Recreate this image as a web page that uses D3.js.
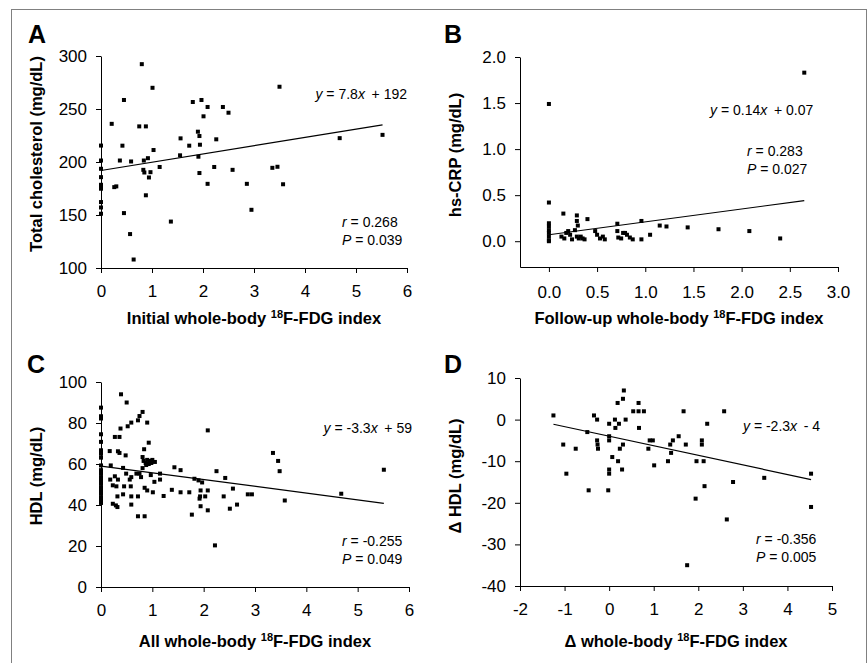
<!DOCTYPE html>
<html>
<head>
<meta charset="utf-8">
<script src="https://cdn.jsdelivr.net/npm/d3@7"></script>
<style>
body { margin: 0; background: #fff; }
text { font-family: "Liberation Sans", Arial, sans-serif; fill: #000; }
</style>
</head>
<body>
<script>

// panel A: initial index vs total cholesterol
var aIndex = [0,0,0,0,0,0,0,0,0,0, 0.21,0.26,0.30,0.37,0.42,0.45,0.45,0.57,0.59,0.64,
    0.75,0.80,0.84,0.83,0.85,0.88,0.88,0.92,0.97,0.94, 1.01,1.03,1.15,1.37,1.56,1.55,1.73,1.80,1.90,1.93,
    1.94,1.91,1.93,1.97,2.01,2.09,2.09,2.22,2.26,2.39, 2.50,2.58,2.86,2.95,3.36,3.46,3.50,3.57,4.68,5.52];
var aCholesterol = [215.5,201.4,193.6,185.7,178.5,177,174.8,162.2,157.1,151.2, 236,176.3,177,201.4,215.4,258.5,151.8,132,200.5,108,
    233.6,292.3,201.4,192.6,190.1,233.6,168.6,203.6,190.4,185.4, 270,211.3,195.3,143.8,222.3,206.3,215.4,256.6,228.6,224.5,
    216.3,205,189.6,258.5,243.1,251.9,179.4,195.3,221.4,251.9, 246.5,192.6,179.4,154.9,194.5,195.5,271,179,222.5,225.6];
var aFit = [7.8, 192];

// panel B: follow-up index vs hs-CRP
var bIndex = [0,0,0,0,0,0,0,0,0, 0.15,0.29,0.29,0.30,0.40,
    0.13,0.16,0.18,0.20,0.22,0.24,0.27,0.29,0.31,0.33,0.35,0.37,
    0.48,0.50,0.53,0.56,0.58,
    0.71,0.71,0.72,0.75,0.77,0.79,0.81,0.84,0.87,0.96,0.96,
    1.05,1.15,1.22,1.44,1.76,2.08,2.40,2.65];
var bCrp = [1.49,0.42,0.195,0.16,0.12,0.09,0.05,0.01,0.0, 0.30,0.28,0.22,0.17,0.24,
    0.05,0.03,0.09,0.11,0.07,0.02,0.12,0.05,0.03,0.05,0.03,0.02,
    0.11,0.07,0.03,0.05,0.02,
    0.19,0.11,0.04,0.03,0.09,0.09,0.07,0.04,0.02,0.02,0.22,
    0.07,0.17,0.16,0.15,0.13,0.11,0.03,1.83];
var bFit = [0.14, 0.07];

// panel C: all index vs HDL
var cIndex = [0,0,0,0,0,0,0,0,0,0, 0,0,0,0,0,0,0,0,0,0,
    0.39,0.50,0.81,0.75,0.72,0.59,0.52,0.38,0.90,0.27, 0.36,0.93,0.84,0.17,0.33,0.36,0.48,0.81,0.83,0.87,
    0.90,0.95,1.00,1.05,0.88,0.93,0.98,0.19,0.43,0.81, 1.43,1.55,0.18,0.27,0.33,0.49,0.59,0.69,0.75,0.78,
    0.56,0.97,1.15,1.04,1.15,0.23,0.30,0.45,0.58,0.85, 0.90,1.01,1.38,1.55,1.72,0.43,0.32,0.59,0.72,1.22,
    0.23,0.29,0.32,0.59,0.72,0.85,1.77,
    2.08,3.35,3.45,3.48,2.25,2.42,1.82,1.90,1.97,1.94, 2.08,2.57,1.93,1.92,2.03,2.39,2.86,2.94,3.58,1.94,
    2.08,2.51,2.65,2.22,4.68,5.51];
var cHdl = [87.5,83.3,82.2,74.5,70.8,66.7,65,63.1,59.3,57, 55.3,53.6,52,50.4,48.7,47,45.5,43.8,42.1,41,
    94,90,85.4,83.4,81.3,80.2,78.4,77.3,80.2,73.2, 73.2,70.4,67.2,66.3,66.2,65.4,64.2,63.4,61.5,60.5,
    62,61.5,62,61,59.5,60,60.5,59.3,58.1,58, 58.4,57,52.4,54,52.4,55.3,53.6,55.3,55.3,53.6,
    52.4,54.6,55.3,51.3,52.4,49.6,49.1,49.1,49.1,48.4, 47.1,46.2,47.4,46.2,46.2,45.2,44.2,44.2,44.2,44.4,
    40.6,39.8,39,40.2,34.5,34.5,35.3,
    76.4,65.4,61.5,56.5,56.5,53.2,52.8,52,51,47.1, 47.1,48,44.2,43.1,44.2,44.2,45.2,45.2,42.2,39.4,
    37.4,38.2,40.2,20.3,45.5,57.2];
var cFit = [-3.3, 59];

// panel D: change in index vs change in HDL
var dIndex = [-1.25,-1.03,-0.96,-0.75,-0.49,-0.46,-0.34,-0.27,-0.27,-0.26,
    -0.25,-0.02,0,0,0,0,0,0.07,0.13,0.14, 0.19,0.22,0.20,0.24,0.29,0.31,0.33,0.31,0.37,0.54,
    0.66,0.66,0.67,0.78,0.88,0.91,0.98,1.01,1.32,1.37, 1.39,1.43,1.56,1.67,1.72,1.75,1.94,1.96,2.08,2.08,
    2.12,2.14,2.20,2.58,2.64,2.78,3.48,4.53,4.53];
var dHdl = [1,-6,-13,-7,-3,-17,1,0,-5,-6, -7,-17,-1,-4,-5,-12,-13,-9,0,-2, 4,-1,-10,-7,-12,5,7,-6,0,2,
    4,2,-2,2,-7,-5,-5,-11,-10,-6, -8,-5,-4,2,-6,-35,-19,-10,-5,-6,
    -10,-16,-1,2,-24,-15,-14,-13,-21];
var dFit = [-2.3, -4];

// tick labels
var aXTicks = [0, 1, 2, 3, 4, 5, 6], aYTicks = [100, 150, 200, 250, 300];
var bXTicks = [0, 0.5, 1, 1.5, 2, 2.5, 3], bYTicks = [0, 0.5, 1, 1.5, 2];
var cXTicks = [0, 1, 2, 3, 4, 5, 6], cYTicks = [0, 20, 40, 60, 80, 100];
var dXTicks = [-2, -1, 0, 1, 2, 3, 4, 5], dYTicks = [-40, -30, -20, -10, 0, 10];

var svg = d3.select("body").append("svg")
    .attr("width", 868)
    .attr("height", 663);

// outer frame
svg.append("rect")
    .attr("x", 11.5).attr("y", 9.5)
    .attr("width", 855).attr("height", 700)
    .attr("fill", "none")
    .attr("stroke", "#808080");

// writes a text made of [string, italic] parts
function addText(g, x, y, anchor, parts) {
    var t = g.append("text")
        .attr("x", x).attr("y", y)
        .attr("text-anchor", anchor)
        .attr("font-size", 14)
        .style("white-space", "pre");
    parts.forEach(function(p) {
        t.append("tspan").text(p[0]).attr("font-style", p[1] ? "italic" : "normal");
    });
    return t;
}

function drawPanel(p) {
    var g = svg.append("g");

    var x = d3.scaleLinear().domain(p.xDomain).range([p.left, p.right]);
    var y = d3.scaleLinear().domain(p.yDomain).range([p.bottom, p.top]);

    // axes
    var xAxis = g.append("g")
        .attr("transform", "translate(0," + p.bottom + ")")
        .call(d3.axisBottom(x).tickValues(p.xTicks).tickSize(5).tickSizeOuter(0)
            .tickPadding(p.xPad).tickFormat(p.xFormat));
    var yAxis = g.append("g")
        .attr("transform", "translate(" + p.left + ",0)")
        .call(d3.axisLeft(y).tickValues(p.yTicks).tickSize(5).tickSizeOuter(0)
            .tickPadding(9).tickFormat(p.yFormat));
    [xAxis, yAxis].forEach(function(a) {
        a.attr("font-size", 17).attr("font-family", "Liberation Sans, Arial, sans-serif");
        a.selectAll("path, line").attr("stroke", "#000");
        a.selectAll("text").attr("fill", "#000");
    });

    // regression line
    var x0 = d3.min(p.xs), x1 = d3.max(p.xs);
    g.append("line")
        .attr("x1", x(x0)).attr("y1", y(p.fit[0] * x0 + p.fit[1]))
        .attr("x2", x(x1)).attr("y2", y(p.fit[0] * x1 + p.fit[1]))
        .attr("stroke", "#000")
        .attr("stroke-width", 1.2);

    // points
    g.selectAll(".pt")
        .data(d3.range(p.xs.length))
        .enter().append("rect")
        .attr("class", "pt")
        .attr("x", function(i) { return x(p.xs[i]) - 2; })
        .attr("y", function(i) { return y(p.ys[i]) - 2; })
        .attr("width", 4)
        .attr("height", 4)
        .attr("fill", "#000");

    // panel letter
    g.append("text")
        .attr("x", p.letterX).attr("y", p.letterY)
        .attr("font-size", 25)
        .attr("font-weight", "bold")
        .text(p.letter);

    // axis titles
    g.append("text")
        .attr("transform", "translate(" + p.yTitleX + "," + p.yTitleY + ") rotate(-90)")
        .attr("text-anchor", "middle")
        .attr("font-size", 16.5)
        .attr("font-weight", "bold")
        .text(p.yTitle);

    var xt = g.append("text")
        .attr("x", (p.left + p.right) / 2).attr("y", p.xTitleY)
        .attr("text-anchor", "middle")
        .attr("font-size", 16.5)
        .attr("font-weight", "bold");
    xt.append("tspan").text(p.xTitle[0]);
    xt.append("tspan").attr("font-size", 11).attr("dy", -6).text("18");
    xt.append("tspan").attr("dy", 6).text(p.xTitle[1]);

    // equation and statistics
    addText(g, p.eq[0], p.eq[1], p.eq[2], p.eqParts);
    addText(g, p.stat[0], p.stat[1], "start", [["r", true], [" = " + p.r, false]]);
    addText(g, p.stat[0], p.stat[1] + 17.5, "start", [["P", true], [" = " + p.p, false]]);
}

var plain = function(d) { return String(d); };
var oneDec = d3.format(".1f");

drawPanel({
    letter: "A", letterX: 28, letterY: 43,
    left: 101, right: 407, top: 56, bottom: 268,
    xDomain: [0, 6], yDomain: [100, 300],
    xTicks: aXTicks, yTicks: aYTicks, xFormat: plain, yFormat: plain, xPad: 12,
    xs: aIndex, ys: aCholesterol, fit: aFit,
    yTitle: "Total cholesterol (mg/dL)", yTitleX: 41.5, yTitleY: 154,
    xTitle: ["Initial whole-body ", "F-FDG index"], xTitleY: 324,
    eq: [407, 99, "end"], eqParts: [["y", true], [" = 7.8", false], ["x", true], ["\u2009 + 192", false]],
    stat: [342, 227], r: "0.268", p: "0.039"
});

drawPanel({
    letter: "B", letterX: 444, letterY: 43,
    left: 520, right: 838, top: 57, bottom: 267,
    xDomain: [-0.3, 3], yDomain: [-0.28, 2],
    xTicks: bXTicks, yTicks: bYTicks, xFormat: oneDec, yFormat: oneDec, xPad: 14,
    xs: bIndex, ys: bCrp, fit: bFit,
    yTitle: "hs-CRP (mg/dL)", yTitleX: 460.5, yTitleY: 155,
    xTitle: ["Follow-up whole-body ", "F-FDG index"], xTitleY: 324,
    eq: [710, 115, "start"], eqParts: [["y", true], [" = 0.14", false], ["x", true], ["\u2009 + 0.07", false]],
    stat: [747, 156], r: "0.283", p: "0.027"
});

drawPanel({
    letter: "C", letterX: 27, letterY: 373,
    left: 101, right: 409, top: 382, bottom: 587,
    xDomain: [0, 6], yDomain: [0, 100],
    xTicks: cXTicks, yTicks: cYTicks, xFormat: plain, yFormat: plain, xPad: 12,
    xs: cIndex, ys: cHdl, fit: cFit,
    yTitle: "HDL (mg/dL)", yTitleX: 41.5, yTitleY: 476,
    xTitle: ["All whole-body ", "F-FDG index"], xTitleY: 647,
    eq: [412, 433, "end"], eqParts: [["y", true], [" = -3.3", false], ["x", true], ["\u2009 + 59", false]],
    stat: [342, 546], r: "-0.255", p: "0.049"
});

drawPanel({
    letter: "D", letterX: 444, letterY: 373,
    left: 520, right: 832, top: 378, bottom: 586,
    xDomain: [-2, 5], yDomain: [-40, 10],
    xTicks: dXTicks, yTicks: dYTicks, xFormat: plain, yFormat: plain, xPad: 12,
    xs: dIndex, ys: dHdl, fit: dFit,
    yTitle: "\u0394 HDL (mg/dL)", yTitleX: 460.5, yTitleY: 476,
    xTitle: ["\u0394 whole-body ", "F-FDG index"], xTitleY: 647,
    eq: [743, 431, "start"], eqParts: [["y", true], [" = -2.3", false], ["x", true], ["\u2009 - 4", false]],
    stat: [756, 544], r: "-0.356", p: "0.005"
});

</script>
</body>
</html>
